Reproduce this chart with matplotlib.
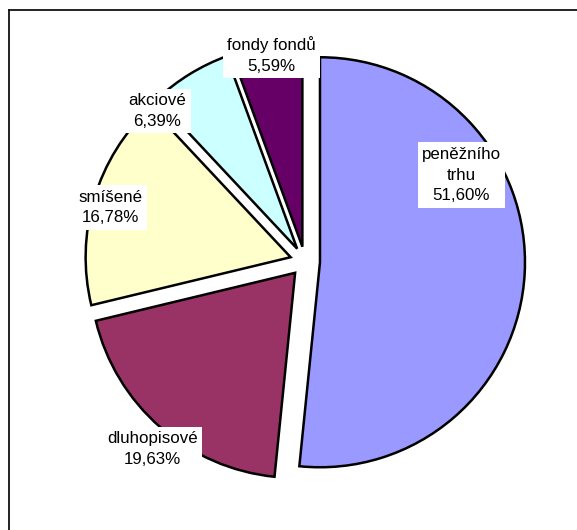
"""Pie chart of fund types (Czech labels), Excel-style with exploded slices."""

import matplotlib

matplotlib.use("Agg")
import matplotlib.pyplot as plt  # noqa: E402
from matplotlib.lines import Line2D  # noqa: E402

# --- data -----------------------------------------------------------------
categories = ["peněžního\ntrhu", "dluhopisové", "smíšené", "akciové", "fondy fondů"]
shares = [51.60, 19.63, 16.78, 6.39, 5.59]
colors = ["#9999FF", "#993366", "#FFFFCC", "#CCFFFF", "#660066"]

# --- layout (pixel coords, y measured from the top of the image) ----------
W, H = 577, 530
PIE_CENTER = (305, 261.5)
PIE_RADIUS = 205
EXPLODE_PX = 15          # matplotlib's explode offset is in data units here
LABEL_XY = [(461.5, 175), (152.5, 449), (110.5, 207.5), (157.5, 111), (271.5, 55)]

plt.rcParams["font.family"] = ["Liberation Sans", "DejaVu Sans"]

fig = plt.figure(figsize=(W / 100, H / 100), dpi=100)
ax = fig.add_axes([0, 0, 1, 1])

ax.pie(shares, colors=colors, startangle=90, counterclock=False,
       explode=[EXPLODE_PX] * len(shares), radius=PIE_RADIUS,
       center=(PIE_CENTER[0], H - PIE_CENTER[1]), frame=True,
       wedgeprops=dict(edgecolor="black", linewidth=1.8))
ax.set_xlim(0, W)
ax.set_ylim(0, H)
ax.set_aspect("equal")
ax.set_axis_off()

for name, val, (x, y) in zip(categories, shares, LABEL_XY):
    txt = f"{name}\n{val:.2f}".replace(".", ",") + "%"
    ax.text(x, H - y, txt, ha="center", va="center", fontsize=12.2,
            linespacing=1.5, color="black",
            bbox=dict(boxstyle="square,pad=0.25", fc="white", ec="none"))

# chart-area frame (only left and top edges are inside the picture)
fx, fy = 8.7 / W, 1 - 9.7 / H
fig.add_artist(Line2D([fx, fx], [0, fy], transform=fig.transFigure,
                      color="#111111", lw=1.3))
fig.add_artist(Line2D([fx, 1], [fy, fy], transform=fig.transFigure,
                      color="#111111", lw=1.3))

fig.savefig("out.png", dpi=100)
plt.close(fig)
